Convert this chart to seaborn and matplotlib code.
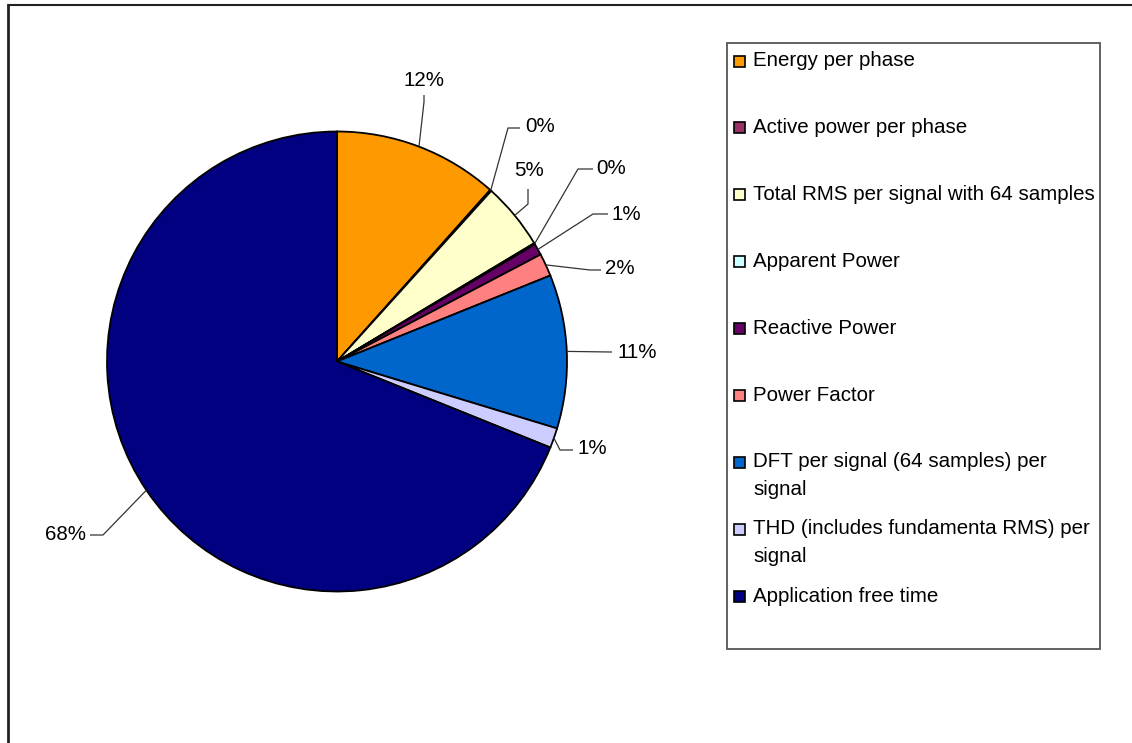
import matplotlib
matplotlib.use("Agg")
import matplotlib.pyplot as plt
import seaborn as sns
import numpy as np
from matplotlib.patches import Rectangle

# Data (share of processing time, percent)
categories = [
    "Energy per phase",
    "Active power per phase",
    "Total RMS per signal with 64 samples",
    "Apparent Power",
    "Reactive Power",
    "Power Factor",
    "DFT per signal (64 samples) per\nsignal",
    "THD (includes fundamenta RMS) per\nsignal",
    "Application free time",
]
shares = [11.6, 0.1, 4.7, 0.1, 0.8, 1.6, 10.8, 1.4, 68.9]
pct_labels = ["12%", "0%", "5%", "0%", "1%", "2%", "11%", "1%", "68%"]
colors = ["#FF9900", "#993366", "#FFFFCC", "#CCFFFF", "#660066",
          "#FF8080", "#0066CC", "#CCCCFF", "#000080"]

# Layout (image pixel coordinates, y downwards)
W, H = 1132, 743
center = (337, 361.5)
radius = 230
label_xy = [(424, 81), (540, 127), (529, 170), (611, 169), (626, 214),
            (620, 269), (637, 352), (592, 449), (66, 535)]
elbow_xy = [(424, 102), (508, 128), (528, 204), (578, 169), (593, 214),
            (590, 270), (610, 352), (560, 450), (103, 535)]
end_xy = [(424, 95), (520, 128), (528, 189), (593, 169), (608, 214),
          (601, 270), (612, 352), (573, 450), (90, 535)]

sns.set_theme(style="white")
plt.rcParams['font.family'] = ['Liberation Sans', 'DejaVu Sans']
FS = 14.8

fig = plt.figure(figsize=(W / 100, H / 100), dpi=100)
ax = fig.add_axes([0, 0, 1, 1])

# y axis inverted -> counterclock in data = clockwise on screen, 270 deg = top
wedges, _ = ax.pie(shares, colors=colors, startangle=270, counterclock=True,
                   center=center, radius=radius,
                   wedgeprops=dict(edgecolor="black", linewidth=1.3))
ax.set_xlim(0, W)
ax.set_ylim(H, 0)
ax.set_aspect("equal")
ax.axis("off")

# percentage labels with leader lines
for w, txt, el, en, lx in zip(wedges, pct_labels, elbow_xy, end_xy, label_xy):
    mid = np.deg2rad((w.theta1 + w.theta2) / 2)
    ax_pt = (center[0] + radius * np.cos(mid), center[1] + radius * np.sin(mid))
    ax.plot([ax_pt[0], el[0], en[0]], [ax_pt[1], el[1], en[1]],
            color="#333333", lw=0.9, solid_capstyle="butt")
    ax.text(lx[0], lx[1], txt, fontsize=FS, ha="center", va="center", color="black")

# legend box drawn by hand to keep Excel-like slot spacing
ax.add_patch(Rectangle((727, 43), 373, 606, facecolor="white",
                       edgecolor="#555555", lw=1.3, zorder=1))
pitch = 66.9
for i, (name, c) in enumerate(zip(categories, colors)):
    y = 61 + i * pitch
    ax.add_patch(Rectangle((734, y - 5.5), 11, 11, facecolor=c,
                           edgecolor="black", lw=1.2, zorder=2))
    nlines = name.count("\n") + 1
    ax.text(753, y + (nlines - 1) * 13, name, fontsize=FS, ha="left",
            va="center", linespacing=1.6, color="black", zorder=3)

# outer chart border (only top and left edges visible)
ax.plot([8, 8], [H, 5], color="#222222", lw=2)
ax.plot([8, W], [5, 5], color="#222222", lw=1.5)

fig.savefig("out.png", dpi=100)
